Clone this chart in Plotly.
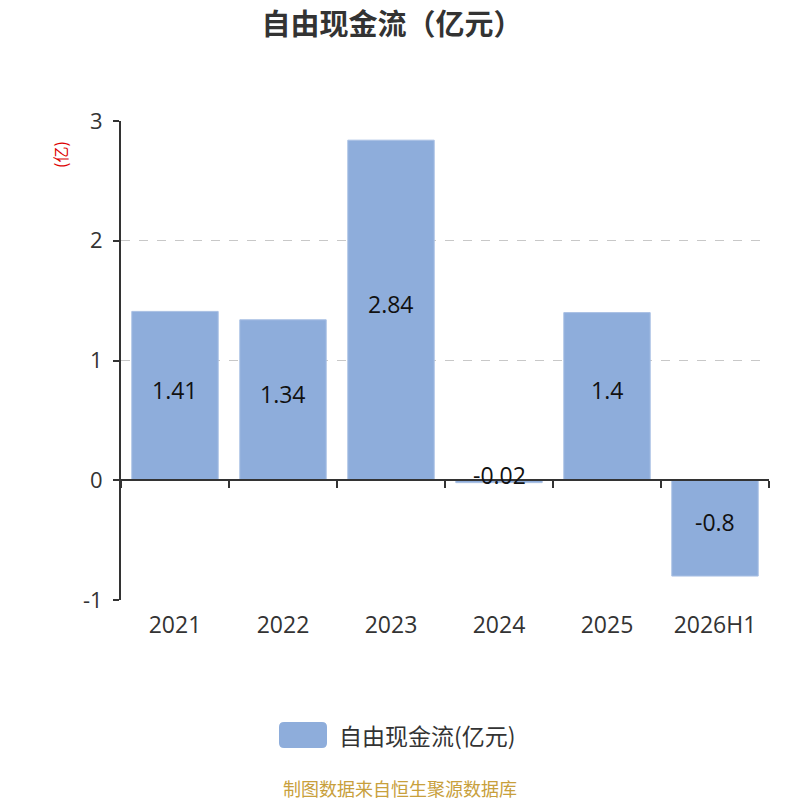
import plotly.graph_objects as go

# ── Chart data ────────────────────────────────────────────────────────────
CATEGORIES = ["2021", "2022", "2023", "2024", "2025", "2026H1"]
FCF_VALUES = [1.41, 1.34, 2.84, -0.02, 1.4, -0.8]
Y_TICKS    = [-1, 0, 1, 2, 3]
Y_LABELS   = ["-1", "0", "1", "2", "3"]

TITLE       = "自由现金流（亿元）"
SERIES_NAME = "自由现金流(亿元)"
UNIT_LABEL  = "(亿)"
SOURCE_NOTE = "制图数据来自恒生聚源数据库"

BAR_COLOR = "#8eaddb"
FONT      = "Open Sans, Noto Sans CJK SC, sans-serif"
CJK_FONT  = "Noto Sans CJK SC, sans-serif"

# plot area in page pixels (the page itself is offset by the 8px body margin)
PAGE_OFF = 8
PLOT_L, PLOT_R, PLOT_T, PLOT_B = 121, 769, 121, 600
PW, PH = PLOT_R - PLOT_L, PLOT_B - PLOT_T


def px(x):
    return (x - PLOT_L) / PW


def py(y):
    return (PLOT_B - y) / PH


def rounded_rect(x0, y0, x1, y1, r):
    # swatch path in paper coords, corners rounded by r pixels
    rx, ry = r / PW, r / PH
    X0, X1, Y0, Y1 = px(x0), px(x1), py(y1), py(y0)
    return (f"M{X0 + rx},{Y0} L{X1 - rx},{Y0} Q{X1},{Y0} {X1},{Y0 + ry} "
            f"L{X1},{Y1 - ry} Q{X1},{Y1} {X1 - rx},{Y1} L{X0 + rx},{Y1} "
            f"Q{X0},{Y1} {X0},{Y1 - ry} L{X0},{Y0 + ry} Q{X0},{Y0} {X0 + rx},{Y0} Z")


fig = go.Figure()

fig.add_trace(go.Bar(
    x=CATEGORIES, y=FCF_VALUES,
    name=SERIES_NAME,
    marker=dict(color=BAR_COLOR, line=dict(color="#a9c0e4", width=1)),
    width=0.8,
    showlegend=False,
    hoverinfo="x+y",
))

# the x2 axis (zero line + boundary ticks) needs a trace to be drawn
fig.add_trace(go.Scatter(x=CATEGORIES, y=[None] * len(CATEGORIES),
                         xaxis="x2", showlegend=False, hoverinfo="skip"))

# value labels centred in each bar; annotations so they sit above the
# zero axis line. yshift lifts the -0.02 minus sign clear of that line.
# On a category axis the annotation x is the category index.
value_labels = [
    dict(x=i, y=v / 2, xref="x", yref="y", text=f"{v:g}", yshift=6,
         showarrow=False, font=dict(family=FONT, size=23, color="#111111"))
    for i, v in enumerate(FCF_VALUES)
]

fig.update_layout(
    width=800, height=800,
    margin=dict(l=PLOT_L - PAGE_OFF, r=800 - PLOT_R + PAGE_OFF,
                t=PLOT_T - PAGE_OFF, b=800 - PLOT_B + PAGE_OFF),
    paper_bgcolor="white",
    plot_bgcolor="white",
    font=dict(family=FONT, color="#333333"),
    title=dict(
        text=f"<b>{TITLE}</b>",
        x=(392 - PAGE_OFF) / 800, xanchor="center",
        y=1 - (25 - PAGE_OFF) / 800, yanchor="middle",
        font=dict(family=CJK_FONT, size=29, color="#333333"),
    ),
    xaxis=dict(
        type="category",
        range=[-0.5, 5.5],
        showline=False,
        showgrid=False,
        ticks="",
        tickfont=dict(size=23, color="#333333"),
        ticklabelstandoff=9,
    ),
    # axis line drawn through y = 0 (0 sits at 1/4 of the -1..3 range)
    xaxis2=dict(
        type="category",
        range=[-0.5, 5.5],
        overlaying="x",
        anchor="free",
        position=0.25,
        showline=True, linecolor="#333333", linewidth=2,
        ticks="outside", ticklen=7, tickwidth=2, tickcolor="#333333",
        tickson="boundaries",
        showticklabels=False,
        showgrid=False,
    ),
    yaxis=dict(
        range=[-1, 3],
        tickvals=Y_TICKS,
        ticktext=Y_LABELS,
        showline=True, linecolor="#333333", linewidth=2,
        ticks="outside", ticklen=6, tickwidth=2, tickcolor="#333333",
        tickfont=dict(size=22, color="#333333"),
        ticklabelstandoff=6,
        showgrid=True, gridcolor="#c8c8c8", griddash="dash", gridwidth=1,
        zeroline=False,
    ),
    bargap=0.2,
    annotations=value_labels + [
        dict(text=UNIT_LABEL, xref="paper", yref="paper",
             x=px(60), y=py(155), xanchor="center", yanchor="middle",
             textangle=-90, showarrow=False,
             font=dict(family=CJK_FONT, size=16, color="#dd0000")),
        dict(text=SERIES_NAME, xref="paper", yref="paper",
             x=px(337), y=py(735), xanchor="left", yanchor="middle",
             showarrow=False,
             font=dict(family=CJK_FONT, size=23, color="#333333")),
        dict(text=SOURCE_NOTE, xref="paper", yref="paper",
             x=px(400), y=py(788), xanchor="center", yanchor="middle",
             showarrow=False,
             font=dict(family=CJK_FONT, size=18, color="#c8a03c")),
    ],
    shapes=[
        dict(type="path", xref="paper", yref="paper",
             path=rounded_rect(279, 722, 327, 748, 5),
             fillcolor=BAR_COLOR, line=dict(width=0)),
    ],
)

fig.write_html("out.html")
